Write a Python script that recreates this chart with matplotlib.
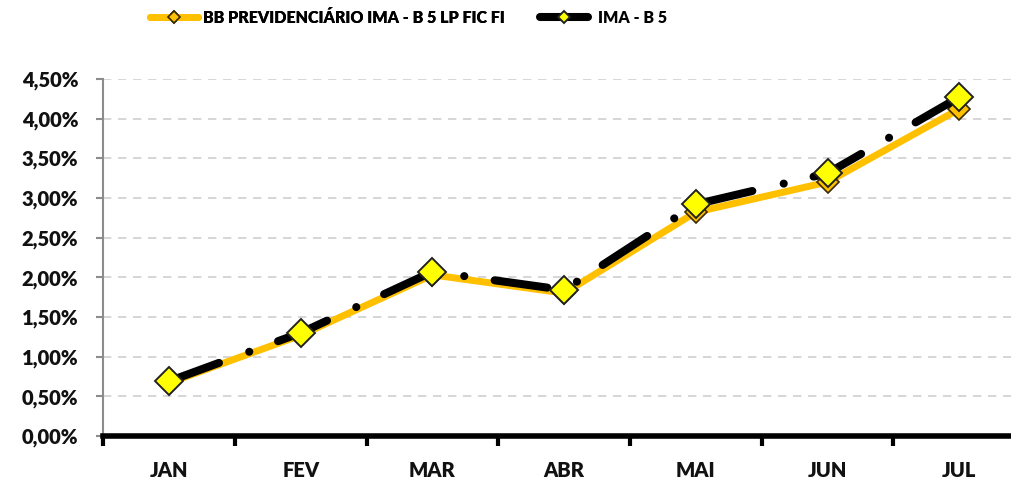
import matplotlib
matplotlib.use("Agg")
import matplotlib.pyplot as plt
from matplotlib.ticker import FuncFormatter, MultipleLocator

meses = ["JAN", "FEV", "MAR", "ABR", "MAI", "JUN", "JUL"]
bb_fundo = [0.67, 1.27, 2.03, 1.80, 2.82, 3.20, 4.12]
ima_b5 = [0.69, 1.30, 2.07, 1.84, 2.92, 3.31, 4.27]

nome_fundo = "BB PREVIDENCIÁRIO IMA - B 5 LP FIC FI"
nome_indice = "IMA - B 5"

fonte = ["Lato", "DejaVu Sans"]

fig = plt.figure(figsize=(10.12, 4.8), dpi=100)
ax = fig.add_axes([0.102, 0.0917, 0.898, 0.744])

x = list(range(len(meses)))

#Linha do fundo (laranja)
l1, = ax.plot(x, bb_fundo, color="#FFC000", lw=5, solid_capstyle="round",
              marker="D", ms=11, mfc="#FFC000", mec="#3a2a00", mew=1.2, zorder=3)
#Linha do indice (preta traco-ponto)
l2, = ax.plot(x, ima_b5, color="black", lw=5.8, dash_capstyle="round",
              dashes=(6.6, 4.0, 0.01, 3.8),
              marker="D", ms=14.5, mfc="#FFFF00", mec="#222222", mew=1.4, zorder=4)

ax.set_xticks(x)
ax.set_xticklabels(meses)
ax.set_xticks([i - 0.5 for i in range(len(meses) + 1)], minor=True)
ax.set_xlim(-0.5, 6.4)
ax.set_ylim(0, 4.5)
ax.yaxis.set_major_locator(MultipleLocator(0.5))
ax.yaxis.set_major_formatter(FuncFormatter(lambda v, p: f"{v:.2f}%".replace(".", ",")))

ax.grid(axis="y", color="#d0d0d0", ls=(0, (5, 4)), lw=1.2)
ax.set_axisbelow(True)

for s in ["top", "right"]:
    ax.spines[s].set_visible(False)
ax.spines["left"].set_color("#8c8c8c")
ax.spines["left"].set_linewidth(1.5)
ax.spines["bottom"].set_color("black")
ax.spines["bottom"].set_linewidth(4)
ax.spines["bottom"].set_zorder(5)

ax.tick_params(axis="x", which="major", length=0, pad=18)
ax.tick_params(axis="x", which="minor", length=7, width=3, color="black", direction="out")
ax.tick_params(axis="y", length=5, width=1.5, color="#8c8c8c", pad=13)

for lab in ax.get_xticklabels() + ax.get_yticklabels():
    lab.set_fontfamily(fonte)
    lab.set_fontweight("heavy")
    lab.set_fontsize(14.5)
    lab.set_color("#111111")

#Legendas separadas para controlar a posicao
prop = {"family": fonte, "weight": "heavy", "size": 11.5}
leg1 = fig.legend([l1], [nome_fundo], loc="center left",
                  bbox_to_anchor=(150 / 1012, 1 - 18 / 480), frameon=False,
                  borderpad=0, borderaxespad=0, handlelength=3.0,
                  handletextpad=0.3, prop=prop)
leg2 = fig.legend([l2], [nome_indice], loc="center left",
                  bbox_to_anchor=(540 / 1012, 1 - 18 / 480), frameon=False,
                  borderpad=0, borderaxespad=0, handlelength=3.0,
                  handletextpad=0.6, prop=prop)
fig.add_artist(leg1)
for lg in (leg1, leg2):
    for h in lg.legend_handles:
        h.set_markersize(6)

fig.savefig("out.png", dpi=100)
